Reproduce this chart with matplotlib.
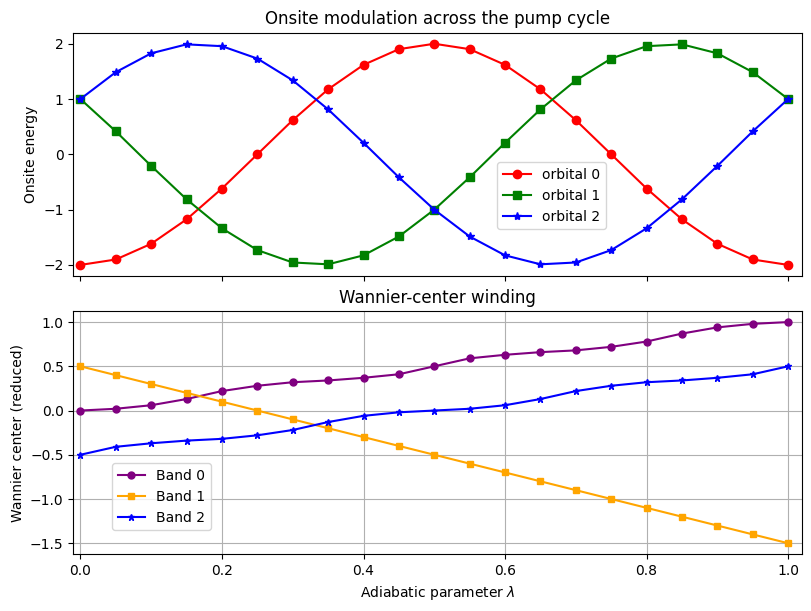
import matplotlib
matplotlib.use("Agg")
import matplotlib.pyplot as plt

lam = [0.0, 0.05, 0.1, 0.15, 0.2, 0.25, 0.3, 0.35, 0.4, 0.45, 0.5,
       0.55, 0.6, 0.65, 0.7, 0.75, 0.8, 0.85, 0.9, 0.95, 1.0]

orbital_0 = [-2.0, -1.902, -1.618, -1.176, -0.618, 0.0, 0.618, 1.176, 1.618, 1.902, 2.0,
             1.902, 1.618, 1.176, 0.618, 0.0, -0.618, -1.176, -1.618, -1.902, -2.0]
orbital_1 = [1.0, 0.416, -0.209, -0.813, -1.338, -1.732, -1.956, -1.989, -1.827, -1.486, -1.0,
             -0.416, 0.209, 0.813, 1.338, 1.732, 1.956, 1.989, 1.827, 1.486, 1.0]
orbital_2 = [1.0, 1.486, 1.827, 1.989, 1.956, 1.732, 1.338, 0.813, 0.209, -0.416, -1.0,
             -1.486, -1.827, -1.989, -1.956, -1.732, -1.338, -0.813, -0.209, 0.416, 1.0]

band_0 = [0.0, 0.02, 0.06, 0.13, 0.22, 0.28, 0.32, 0.34, 0.37, 0.41, 0.5,
          0.59, 0.63, 0.66, 0.68, 0.72, 0.78, 0.87, 0.94, 0.98, 1.0]
band_1 = [0.5, 0.4, 0.3, 0.2, 0.1, 0.0, -0.1, -0.2, -0.3, -0.4, -0.5,
          -0.6, -0.7, -0.8, -0.9, -1.0, -1.1, -1.2, -1.3, -1.4, -1.5]
band_2 = [-0.5, -0.41, -0.37, -0.34, -0.32, -0.28, -0.22, -0.13, -0.06, -0.02, 0.0,
          0.02, 0.06, 0.13, 0.22, 0.28, 0.32, 0.34, 0.37, 0.41, 0.5]

fig, (ax1, ax2) = plt.subplots(2, 1, figsize=(8.11, 6.11), dpi=100, sharex=True)
fig.subplots_adjust(left=0.0904, right=0.9893, top=0.9465, bottom=0.0928, hspace=0.144)

ax1.plot(lam, orbital_0, "o-", color="red", label="orbital 0")
ax1.plot(lam, orbital_1, "s-", color="green", label="orbital 1")
ax1.plot(lam, orbital_2, "*-", color="blue", label="orbital 2")
ax1.set_ylabel("Onsite energy")
ax1.set_title("Onsite modulation across the pump cycle")
ax1.legend(loc="center", bbox_to_anchor=(0.656, 0.33))

ax2.plot(lam, band_0, "o-", color="purple", markersize=5, label="Band 0")
ax2.plot(lam, band_1, "s-", color="orange", markersize=5, label="Band 1")
ax2.plot(lam, band_2, "*-", color="blue", markersize=5, label="Band 2")
ax2.set_xlabel(r"Adiabatic parameter $\lambda$")
ax2.set_ylabel("Wannier center (reduced)")
ax2.set_title("Wannier-center winding")
ax2.grid(True)
ax2.legend(loc="center", bbox_to_anchor=(0.121, 0.237))
ax2.set_xlim(-0.01, 1.02)

plt.savefig("out.png", dpi=100)
